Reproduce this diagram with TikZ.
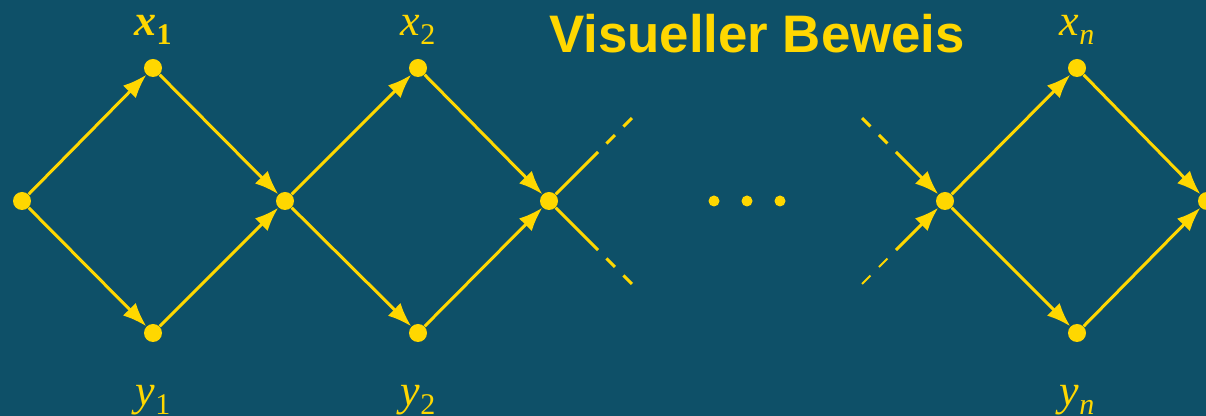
\documentclass[tikz,border=0pt]{standalone}
\usepackage{fontspec}
\setmainfont{Liberation Serif}
\newfontfamily\titlefont{Liberation Sans}
\usetikzlibrary{arrows.meta}
\definecolor{bgblue}{RGB}{14,80,104}
\definecolor{gold}{RGB}{255,215,0}
\newcommand{\lowsub}[1]{\raisebox{-4.5pt}{\fontsize{15}{16}\selectfont #1}}
\tikzset{
  dot/.style    = {circle, fill=gold, minimum size=9pt, inner sep=0pt},
  smalldot/.style = {circle, fill=gold, minimum size=5.5pt, inner sep=0pt},
  edge/.style   = {line width=1.5pt, gold},
  arr/.style    = {edge, -{Latex[length=12pt,width=9pt]}},
  dashes/.style = {edge, dash pattern=on 6pt off 6pt},
  lbl/.style    = {text=gold, font=\fontsize{22}{24}\selectfont},
}

\begin{document}
\begin{tikzpicture}[x=0.5pt,y=-0.5pt]
  \fill[bgblue] (0,0) rectangle (1206,416);
  \useasboundingbox (0,0) rectangle (1206,416);
  % nodes
  \node[dot] (s) at (22,201) {};
  \foreach \n/\xx in {1/153, 2/418, n/1077} {
    \node[dot] (x\n) at (\xx,68) {};
    \node[dot] (y\n) at (\xx,333) {};
  }
  \node[dot] (m1) at (285,201) {};
  \node[dot] (m2) at (549,201) {};
  \node[dot] (m3) at (945,201) {};
  \node[dot] (t) at (1207,201) {};
  % diamonds
  \draw[arr] (s) -- (x1);
  \draw[arr] (s) -- (y1);
  \draw[arr] (x1) -- (m1);
  \draw[arr] (y1) -- (m1);
  \draw[arr] (m1) -- (x2);
  \draw[arr] (m1) -- (y2);
  \draw[arr] (x2) -- (m2);
  \draw[arr] (y2) -- (m2);
  \draw[arr] (m3) -- (xn);
  \draw[arr] (m3) -- (yn);
  \draw[arr] (xn) -- (t);
  \draw[arr] (yn) -- (t);
  % broken lines
  \coordinate (a1) at (598,152);
  \coordinate (a2) at (632,118);
  \coordinate (a3) at (598,250);
  \coordinate (a4) at (632,284);
  \draw[edge] (m2) -- (a1);
  \draw[edge] (m2) -- (a3);
  \draw[dashes, dash phase=6pt] (a1) -- (a2);
  \draw[dashes, dash phase=6pt] (a3) -- (a4);
  \coordinate (b1) at (862,118);
  \coordinate (b2) at (896,152);
  \coordinate (b3) at (862,284);
  \coordinate (b4) at (896,250);
  \draw[dashes] (b1) -- (b2);
  \draw[dashes, line width=1pt] (b3) -- (b4);
  \draw[arr] (b2) -- (m3);
  \draw[arr] (b4) -- (m3);
  % dots
  \node[smalldot] (d1) at (714,201) {};
  \node[smalldot] (d2) at (747,201) {};
  \node[smalldot] (d3) at (780,201) {};
  % labels
  \node[lbl] (lx1) at (153,30) {\textbf{\textit{x}}\lowsub{\textbf{1}}};
  \node[lbl] (lx2) at (418,30) {\textit{x}\lowsub{2}};
  \node[lbl] (lxn) at (1077,30) {\textit{x}\lowsub{\textit{n}}};
  \node[lbl] (ly1) at (153,400) {\textit{y}\lowsub{1}};
  \node[lbl] (ly2) at (418,400) {\textit{y}\lowsub{2}};
  \node[lbl] (lyn) at (1077,400) {\textit{y}\lowsub{\textit{n}}};
  \node[text=gold, font=\titlefont\bfseries\fontsize{26.4}{28}\selectfont] (title) at (757,34) {Visueller Beweis};
\end{tikzpicture}
\end{document}
